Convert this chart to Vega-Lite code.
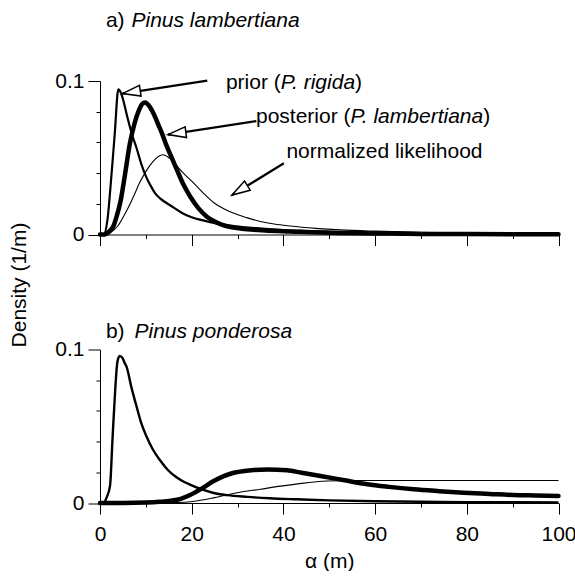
{
  "$schema": "https://vega.github.io/schema/vega-lite/v6.json",
  "background": "white",
  "padding": {"top": 10, "left": 8, "right": 0, "bottom": 0},
  "bounds": "flush",
  "spacing": 114.5,
  "config": {
    "view": {"stroke": null},
    "font": "Liberation Sans",
    "axis": {
      "labelFontSize": 21, "titleFontSize": 21, "titleFontWeight": "normal",
      "labelColor": "black", "titleColor": "black", "tickColor": "black", "domainColor": "black",
      "grid": false, "labelFlush": false, "labelOverlap": false, "tickWidth": 1, "domainWidth": 1
    },
    "text": {"fontSize": 21, "color": "black", "baseline": "middle", "align": "left"}
  },
  "datasets": {
    "curves": [
      {"panel":"a","series":"prior","x":0,"y":0},{"panel":"a","series":"prior","x":0.8,"y":0},{"panel":"a","series":"prior","x":1.6,"y":0.009},{"panel":"a","series":"prior","x":2.4,"y":0.035},{"panel":"a","series":"prior","x":3.2,"y":0.065},{"panel":"a","series":"prior","x":4.0,"y":0.0945},{"panel":"a","series":"prior","x":4.6,"y":0.092},{"panel":"a","series":"prior","x":5.2,"y":0.086},{"panel":"a","series":"prior","x":6.0,"y":0.076},{"panel":"a","series":"prior","x":7.0,"y":0.065},{"panel":"a","series":"prior","x":8.0,"y":0.056},{"panel":"a","series":"prior","x":9.0,"y":0.046},{"panel":"a","series":"prior","x":10.0,"y":0.038},{"panel":"a","series":"prior","x":11.0,"y":0.032},{"panel":"a","series":"prior","x":12.0,"y":0.027},{"panel":"a","series":"prior","x":13.1,"y":0.0235},{"panel":"a","series":"prior","x":14.5,"y":0.0205},{"panel":"a","series":"prior","x":16.1,"y":0.0175},{"panel":"a","series":"prior","x":18.2,"y":0.0135},{"panel":"a","series":"prior","x":20,"y":0.0112},{"panel":"a","series":"prior","x":22,"y":0.0095},{"panel":"a","series":"prior","x":24,"y":0.008},{"panel":"a","series":"prior","x":27,"y":0.0064},{"panel":"a","series":"prior","x":30,"y":0.0052},{"panel":"a","series":"prior","x":34,"y":0.0041},{"panel":"a","series":"prior","x":40,"y":0.0029},{"panel":"a","series":"prior","x":50,"y":0.0018},{"panel":"a","series":"prior","x":60,"y":0.0012},{"panel":"a","series":"prior","x":70,"y":0.0008},{"panel":"a","series":"prior","x":80,"y":0.0006},{"panel":"a","series":"prior","x":90,"y":0.0004},{"panel":"a","series":"prior","x":100,"y":0.0003},
      {"panel":"a","series":"posterior","x":0,"y":0},{"panel":"a","series":"posterior","x":1.0,"y":0},{"panel":"a","series":"posterior","x":2.0,"y":0.002},{"panel":"a","series":"posterior","x":3.0,"y":0.006},{"panel":"a","series":"posterior","x":3.6,"y":0.0115},{"panel":"a","series":"posterior","x":4.5,"y":0.022},{"panel":"a","series":"posterior","x":5.5,"y":0.04},{"panel":"a","series":"posterior","x":6.5,"y":0.059},{"panel":"a","series":"posterior","x":7.5,"y":0.072},{"panel":"a","series":"posterior","x":8.5,"y":0.081},{"panel":"a","series":"posterior","x":9.2,"y":0.085},{"panel":"a","series":"posterior","x":9.8,"y":0.086},{"panel":"a","series":"posterior","x":10.8,"y":0.0835},{"panel":"a","series":"posterior","x":11.8,"y":0.078},{"panel":"a","series":"posterior","x":12.8,"y":0.071},{"panel":"a","series":"posterior","x":13.5,"y":0.066},{"panel":"a","series":"posterior","x":14.3,"y":0.0595},{"panel":"a","series":"posterior","x":15.5,"y":0.051},{"panel":"a","series":"posterior","x":16.8,"y":0.042},{"panel":"a","series":"posterior","x":18.2,"y":0.0325},{"panel":"a","series":"posterior","x":19.7,"y":0.0246},{"panel":"a","series":"posterior","x":21.5,"y":0.017},{"panel":"a","series":"posterior","x":23.3,"y":0.0116},{"panel":"a","series":"posterior","x":25,"y":0.0085},{"panel":"a","series":"posterior","x":27,"y":0.006},{"panel":"a","series":"posterior","x":30,"y":0.0042},{"panel":"a","series":"posterior","x":32.1,"y":0.0034},{"panel":"a","series":"posterior","x":36,"y":0.0026},{"panel":"a","series":"posterior","x":41.5,"y":0.002},{"panel":"a","series":"posterior","x":52,"y":0.001},{"panel":"a","series":"posterior","x":60,"y":0.0007},{"panel":"a","series":"posterior","x":70,"y":0.0004},{"panel":"a","series":"posterior","x":80,"y":0.0003},{"panel":"a","series":"posterior","x":100,"y":0.0001},
      {"panel":"a","series":"likelihood","x":0,"y":0},{"panel":"a","series":"likelihood","x":1.5,"y":0},{"panel":"a","series":"likelihood","x":3,"y":0.003},{"panel":"a","series":"likelihood","x":4,"y":0.006},{"panel":"a","series":"likelihood","x":5.1,"y":0.0115},{"panel":"a","series":"likelihood","x":6.5,"y":0.0195},{"panel":"a","series":"likelihood","x":7.5,"y":0.026},{"panel":"a","series":"likelihood","x":8.6,"y":0.0335},{"panel":"a","series":"likelihood","x":9.8,"y":0.04},{"panel":"a","series":"likelihood","x":10.9,"y":0.045},{"panel":"a","series":"likelihood","x":12,"y":0.049},{"panel":"a","series":"likelihood","x":13.1,"y":0.0515},{"panel":"a","series":"likelihood","x":13.8,"y":0.052},{"panel":"a","series":"likelihood","x":14.8,"y":0.0505},{"panel":"a","series":"likelihood","x":16,"y":0.0475},{"panel":"a","series":"likelihood","x":16.8,"y":0.0445},{"panel":"a","series":"likelihood","x":18.5,"y":0.039},{"panel":"a","series":"likelihood","x":20.5,"y":0.0333},{"panel":"a","series":"likelihood","x":22.7,"y":0.0265},{"panel":"a","series":"likelihood","x":24.9,"y":0.0205},{"panel":"a","series":"likelihood","x":27,"y":0.0168},{"panel":"a","series":"likelihood","x":29.2,"y":0.0138},{"panel":"a","series":"likelihood","x":32,"y":0.011},{"panel":"a","series":"likelihood","x":35,"y":0.0085},{"panel":"a","series":"likelihood","x":38,"y":0.0068},{"panel":"a","series":"likelihood","x":41.5,"y":0.0055},{"panel":"a","series":"likelihood","x":47,"y":0.004},{"panel":"a","series":"likelihood","x":52.4,"y":0.003},{"panel":"a","series":"likelihood","x":60,"y":0.0022},{"panel":"a","series":"likelihood","x":70,"y":0.0015},{"panel":"a","series":"likelihood","x":80,"y":0.001},{"panel":"a","series":"likelihood","x":90,"y":0.0007},{"panel":"a","series":"likelihood","x":100,"y":0.0005},
      {"panel":"b","series":"prior","x":0,"y":0},{"panel":"b","series":"prior","x":0.7,"y":0},{"panel":"b","series":"prior","x":1.5,"y":0.004},{"panel":"b","series":"prior","x":2.2,"y":0.0115},{"panel":"b","series":"prior","x":2.7,"y":0.04},{"panel":"b","series":"prior","x":3.3,"y":0.073},{"panel":"b","series":"prior","x":3.8,"y":0.092},{"panel":"b","series":"prior","x":4.3,"y":0.0958},{"panel":"b","series":"prior","x":4.9,"y":0.0945},{"panel":"b","series":"prior","x":5.4,"y":0.091},{"panel":"b","series":"prior","x":5.8,"y":0.0887},{"panel":"b","series":"prior","x":6.8,"y":0.076},{"panel":"b","series":"prior","x":8.0,"y":0.0626},{"panel":"b","series":"prior","x":9.0,"y":0.052},{"panel":"b","series":"prior","x":10.2,"y":0.043},{"panel":"b","series":"prior","x":11.5,"y":0.035},{"panel":"b","series":"prior","x":13.1,"y":0.0278},{"panel":"b","series":"prior","x":14.8,"y":0.0215},{"panel":"b","series":"prior","x":16.6,"y":0.0169},{"panel":"b","series":"prior","x":18.5,"y":0.0135},{"panel":"b","series":"prior","x":20,"y":0.0115},{"panel":"b","series":"prior","x":21.8,"y":0.0093},{"panel":"b","series":"prior","x":24.8,"y":0.0065},{"panel":"b","series":"prior","x":27.7,"y":0.0051},{"panel":"b","series":"prior","x":32.1,"y":0.004},{"panel":"b","series":"prior","x":37,"y":0.0031},{"panel":"b","series":"prior","x":43,"y":0.0024},{"panel":"b","series":"prior","x":50,"y":0.0017},{"panel":"b","series":"prior","x":60,"y":0.0011},{"panel":"b","series":"prior","x":70,"y":0.0008},{"panel":"b","series":"prior","x":80,"y":0.0006},{"panel":"b","series":"prior","x":100,"y":0.0004},
      {"panel":"b","series":"posterior","x":0,"y":0},{"panel":"b","series":"posterior","x":5,"y":0},{"panel":"b","series":"posterior","x":10,"y":0.0003},{"panel":"b","series":"posterior","x":13,"y":0.0008},{"panel":"b","series":"posterior","x":15.5,"y":0.0015},{"panel":"b","series":"posterior","x":17.6,"y":0.0027},{"panel":"b","series":"posterior","x":19.5,"y":0.005},{"panel":"b","series":"posterior","x":21.9,"y":0.0089},{"panel":"b","series":"posterior","x":24.8,"y":0.0143},{"panel":"b","series":"posterior","x":27,"y":0.0175},{"panel":"b","series":"posterior","x":29.2,"y":0.0197},{"panel":"b","series":"posterior","x":32,"y":0.021},{"panel":"b","series":"posterior","x":36.5,"y":0.0219},{"panel":"b","series":"posterior","x":40.8,"y":0.0213},{"panel":"b","series":"posterior","x":44,"y":0.0197},{"panel":"b","series":"posterior","x":48.1,"y":0.0176},{"panel":"b","series":"posterior","x":53,"y":0.015},{"panel":"b","series":"posterior","x":58.3,"y":0.0122},{"panel":"b","series":"posterior","x":63,"y":0.0105},{"panel":"b","series":"posterior","x":68.4,"y":0.0089},{"panel":"b","series":"posterior","x":74,"y":0.0077},{"panel":"b","series":"posterior","x":79.3,"y":0.0067},{"panel":"b","series":"posterior","x":85,"y":0.0059},{"panel":"b","series":"posterior","x":90.2,"y":0.0052},{"panel":"b","series":"posterior","x":95,"y":0.0049},{"panel":"b","series":"posterior","x":100,"y":0.0046},
      {"panel":"b","series":"likelihood","x":0,"y":0},{"panel":"b","series":"likelihood","x":10,"y":0},{"panel":"b","series":"likelihood","x":17,"y":0.0003},{"panel":"b","series":"likelihood","x":20.2,"y":0.001},{"panel":"b","series":"likelihood","x":25,"y":0.0035},{"panel":"b","series":"likelihood","x":29.9,"y":0.0067},{"panel":"b","series":"likelihood","x":35,"y":0.009},{"panel":"b","series":"likelihood","x":39.4,"y":0.011},{"panel":"b","series":"likelihood","x":44,"y":0.0128},{"panel":"b","series":"likelihood","x":49.5,"y":0.0143},{"panel":"b","series":"likelihood","x":55,"y":0.0147},{"panel":"b","series":"likelihood","x":60,"y":0.0147},{"panel":"b","series":"likelihood","x":70,"y":0.0147},{"panel":"b","series":"likelihood","x":80,"y":0.0147},{"panel":"b","series":"likelihood","x":90,"y":0.0147},{"panel":"b","series":"likelihood","x":100,"y":0.0147}
    ],
    "roman": [
      {"panel":"a","x":1.29,"y":0.139,"text":"a)"},
      {"panel":"a","x":27.46,"y":0.0986,"text":"prior ("},
      {"panel":"a","x":55.6,"y":0.0986,"text":")"},
      {"panel":"a","x":34.02,"y":0.0765,"text":"posterior ("},
      {"panel":"a","x":83.6,"y":0.0765,"text":")"},
      {"panel":"a","x":40.65,"y":0.0537,"text":"normalized likelihood"},
      {"panel":"b","x":1.29,"y":0.1113,"text":"b)"}
    ],
    "italic": [
      {"panel":"a","x":6.87,"y":0.139,"text":"Pinus lambertiana"},
      {"panel":"a","x":39.42,"y":0.0986,"text":"P. rigida"},
      {"panel":"a","x":54.63,"y":0.0765,"text":"P. lambertiana"},
      {"panel":"b","x":7.52,"y":0.1113,"text":"Pinus ponderosa"}
    ],
    "arrows": [
      {"id":1,"x":4.9,"y":0.0918,"x2":23.4,"y2":0.1003},
      {"id":2,"x":14.83,"y":0.0651,"x2":34.1,"y2":0.0739},
      {"id":3,"x":28.8,"y":0.0257,"x2":40.1,"y2":0.0464}
    ]
  },
  "vconcat": [
    {
      "width": 458.5,
      "height": 153.5,
      "layer": [
        {
          "data": {"name": "curves"},
          "transform": [{"filter": "datum.panel === 'a' && datum.series === 'prior'"}],
          "mark": {"type": "line", "color": "black", "strokeWidth": 2.2, "interpolate": "monotone"},
          "encoding": {
            "x": {"field": "x", "type": "quantitative", "scale": {"domain": [0, 100], "nice": false},
                  "axis": {"orient": "bottom", "values": [0, 20, 40, 60, 80, 100], "tickSize": 11, "labels": false, "title": null}},
            "y": {"field": "y", "type": "quantitative", "scale": {"domain": [0, 0.1], "nice": false},
                  "axis": {"orient": "left", "values": [0, 0.1], "tickSize": 12, "labelPadding": 4, "labelBaseline": "middle",
                           "labelExpr": "datum.value == 0 ? '0' : '0.1'",
                           "title": "Density (1/m)", "titleAngle": 270, "titleX": -81, "titleY": 203.5,
                           "titleAlign": "center", "titleBaseline": "middle"}}
          }
        },
        {
          "data": {"name": "curves"},
          "transform": [{"filter": "datum.panel === 'a' && datum.series === 'posterior'"}],
          "mark": {"type": "line", "color": "black", "strokeWidth": 4.5, "interpolate": "monotone", "strokeCap": "round"},
          "encoding": {
            "x": {"field": "x", "type": "quantitative", "scale": {"domain": [0, 100], "nice": false},
                  "axis": {"orient": "bottom", "values": [10, 30, 50, 70, 90], "tickSize": 4, "labels": false, "domain": false, "title": null}},
            "y": {"field": "y", "type": "quantitative", "scale": {"domain": [0, 0.1], "nice": false},
                  "axis": {"orient": "left", "values": [0.02, 0.04, 0.06, 0.08], "tickSize": 4, "labels": false, "domain": false, "title": null}}
          }
        },
        {
          "data": {"name": "curves"},
          "transform": [{"filter": "datum.panel === 'a' && datum.series === 'likelihood'"}],
          "mark": {"type": "line", "color": "black", "strokeWidth": 1.1, "interpolate": "monotone"},
          "encoding": {
            "x": {"field": "x", "type": "quantitative", "scale": {"domain": [0, 100], "nice": false}, "axis": null},
            "y": {"field": "y", "type": "quantitative", "scale": {"domain": [0, 0.1], "nice": false}, "axis": null}
          }
        },
        {
          "data": {"name": "arrows"},
          "mark": {"type": "rule", "color": "black", "strokeWidth": 2.2},
          "encoding": {
            "x": {"field": "x", "type": "quantitative", "scale": {"domain": [0, 100], "nice": false}, "axis": null},
            "y": {"field": "y", "type": "quantitative", "scale": {"domain": [0, 0.1], "nice": false}, "axis": null},
            "x2": {"field": "x2"},
            "y2": {"field": "y2"}
          }
        },
        {
          "data": {"name": "arrows"},
          "transform": [{"filter": "datum.id === 1"}],
          "mark": {"type": "point", "shape": "M0,0L1,-0.3L1,0.3Z", "size": 1296, "filled": true, "fill": "white", "stroke": "black", "strokeWidth": 1.5, "opacity": 1, "angle": -9.1},
          "encoding": {
            "x": {"field": "x", "type": "quantitative", "scale": {"domain": [0, 100], "nice": false}, "axis": null},
            "y": {"field": "y", "type": "quantitative", "scale": {"domain": [0, 0.1], "nice": false}, "axis": null}
          }
        },
        {
          "data": {"name": "arrows"},
          "transform": [{"filter": "datum.id === 2"}],
          "mark": {"type": "point", "shape": "M0,0L1,-0.3L1,0.3Z", "size": 1296, "filled": true, "fill": "white", "stroke": "black", "strokeWidth": 1.5, "opacity": 1, "angle": -7.6},
          "encoding": {
            "x": {"field": "x", "type": "quantitative", "scale": {"domain": [0, 100], "nice": false}, "axis": null},
            "y": {"field": "y", "type": "quantitative", "scale": {"domain": [0, 0.1], "nice": false}, "axis": null}
          }
        },
        {
          "data": {"name": "arrows"},
          "transform": [{"filter": "datum.id === 3"}],
          "mark": {"type": "point", "shape": "M0,0L1,-0.3L1,0.3Z", "size": 1296, "filled": true, "fill": "white", "stroke": "black", "strokeWidth": 1.5, "opacity": 1, "angle": -31.6},
          "encoding": {
            "x": {"field": "x", "type": "quantitative", "scale": {"domain": [0, 100], "nice": false}, "axis": null},
            "y": {"field": "y", "type": "quantitative", "scale": {"domain": [0, 0.1], "nice": false}, "axis": null}
          }
        },
        {
          "data": {"name": "roman"},
          "transform": [{"filter": "datum.panel === 'a'"}],
          "mark": {"type": "text"},
          "encoding": {
            "x": {"field": "x", "type": "quantitative", "scale": {"domain": [0, 100], "nice": false}, "axis": null},
            "y": {"field": "y", "type": "quantitative", "scale": {"domain": [0, 0.1], "nice": false}, "axis": null},
            "text": {"field": "text"}
          }
        },
        {
          "data": {"name": "italic"},
          "transform": [{"filter": "datum.panel === 'a'"}],
          "mark": {"type": "text", "fontStyle": "italic"},
          "encoding": {
            "x": {"field": "x", "type": "quantitative", "scale": {"domain": [0, 100], "nice": false}, "axis": null},
            "y": {"field": "y", "type": "quantitative", "scale": {"domain": [0, 0.1], "nice": false}, "axis": null},
            "text": {"field": "text"}
          }
        }
      ],
      "resolve": {"axis": {"x": "independent", "y": "independent"}}
    },
    {
      "width": 458.5,
      "height": 153.5,
      "layer": [
        {
          "data": {"name": "curves"},
          "transform": [{"filter": "datum.panel === 'b' && datum.series === 'prior'"}],
          "mark": {"type": "line", "color": "black", "strokeWidth": 2.4, "interpolate": "monotone"},
          "encoding": {
            "x": {"field": "x", "type": "quantitative", "scale": {"domain": [0, 100], "nice": false},
                  "axis": {"orient": "bottom", "values": [0, 20, 40, 60, 80, 100], "tickSize": 11, "labelPadding": 9, "title": "α (m)", "titlePadding": 6}},
            "y": {"field": "y", "type": "quantitative", "scale": {"domain": [0, 0.1], "nice": false},
                  "axis": {"orient": "left", "values": [0, 0.1], "tickSize": 12, "labelPadding": 4, "labelBaseline": "middle",
                           "labelExpr": "datum.value == 0 ? '0' : '0.1'", "title": null}}
          }
        },
        {
          "data": {"name": "curves"},
          "transform": [{"filter": "datum.panel === 'b' && datum.series === 'posterior'"}],
          "mark": {"type": "line", "color": "black", "strokeWidth": 4.5, "interpolate": "monotone", "strokeCap": "round"},
          "encoding": {
            "x": {"field": "x", "type": "quantitative", "scale": {"domain": [0, 100], "nice": false},
                  "axis": {"orient": "bottom", "values": [10, 30, 50, 70, 90], "tickSize": 4, "labels": false, "domain": false, "title": null}},
            "y": {"field": "y", "type": "quantitative", "scale": {"domain": [0, 0.1], "nice": false},
                  "axis": {"orient": "left", "values": [0.02, 0.04, 0.06, 0.08], "tickSize": 4, "labels": false, "domain": false, "title": null}}
          }
        },
        {
          "data": {"name": "curves"},
          "transform": [{"filter": "datum.panel === 'b' && datum.series === 'likelihood'"}],
          "mark": {"type": "line", "color": "black", "strokeWidth": 1.1, "interpolate": "monotone"},
          "encoding": {
            "x": {"field": "x", "type": "quantitative", "scale": {"domain": [0, 100], "nice": false}, "axis": null},
            "y": {"field": "y", "type": "quantitative", "scale": {"domain": [0, 0.1], "nice": false}, "axis": null}
          }
        },
        {
          "data": {"name": "roman"},
          "transform": [{"filter": "datum.panel === 'b'"}],
          "mark": {"type": "text"},
          "encoding": {
            "x": {"field": "x", "type": "quantitative", "scale": {"domain": [0, 100], "nice": false}, "axis": null},
            "y": {"field": "y", "type": "quantitative", "scale": {"domain": [0, 0.1], "nice": false}, "axis": null},
            "text": {"field": "text"}
          }
        },
        {
          "data": {"name": "italic"},
          "transform": [{"filter": "datum.panel === 'b'"}],
          "mark": {"type": "text", "fontStyle": "italic"},
          "encoding": {
            "x": {"field": "x", "type": "quantitative", "scale": {"domain": [0, 100], "nice": false}, "axis": null},
            "y": {"field": "y", "type": "quantitative", "scale": {"domain": [0, 0.1], "nice": false}, "axis": null},
            "text": {"field": "text"}
          }
        }
      ],
      "resolve": {"axis": {"x": "independent", "y": "independent"}}
    }
  ]
}
